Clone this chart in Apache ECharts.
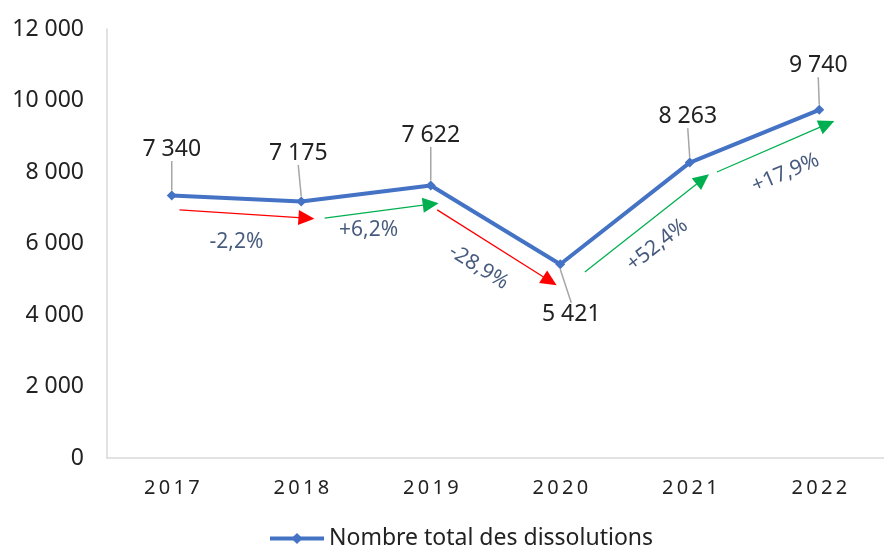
<!DOCTYPE html>
<html lang="fr">
<head>
<meta charset="UTF-8" />
<title>Nombre total des dissolutions</title>
<style>
  html, body { margin: 0; padding: 0; background: #fff; }
  #main { width: 884px; height: 548px; }
</style>
<script src="https://cdn.jsdelivr.net/npm/echarts@6/dist/echarts.min.js"></script>
</head>
<body>
<div id="main"></div>
<script>
  // données
  const years = ['2017', '2018', '2019', '2020', '2021', '2022']
  const dissolutions = [7340, 7175, 7622, 5421, 8263, 9740]
  const yTicks = [0, 2000, 4000, 6000, 8000, 10000, 12000]
  const changeLabels = ['-2,2%', '+6,2%', '-28,9%', '+52,4%', '+17,9%']
  const changeUp = [false, true, false, true, true]

  // placement des annotations, en coordonnées du graphique (index d'année, valeur)
  const arrowFrom = [[0.06, 6940], [1.18, 6710], [2.05, 6940], [3.19, 5200], [4.21, 8000]]
  const arrowTo = [[1.04, 6710], [2.0, 7100], [2.92, 4950], [4.1, 7800], [5.06, 9340]]
  const changeAt = [[0.5, 6040], [1.52, 6380], [2.37, 5340], [3.75, 5960], [4.74, 7970]]
  const changeRotate = [0, 0, -32, 38, 23]
  // décalage des étiquettes de valeur (px)
  const labelShift = [[0, -49], [-3, -51], [0, -53], [11, 53], [-2, -49], [-1, -47]]

  const FONT = 'Noto Sans'
  const fmt = v => String(v).replace(/\B(?=(\d{3})+(?!\d))/g, ' ')

  const chart = echarts.init(document.getElementById('main'))

  const lineData = dissolutions.map((v, i) => ({
    value: v,
    label: { padding: labelShift[i][1] > 0 ? [6, 0, 0, 0] : [0, 0, 6, 0] }
  }))

  const arrows = arrowFrom.map((p, i) => [
    { coord: p, lineStyle: { color: changeUp[i] ? '#00B050' : '#FF0000' },
      itemStyle: { color: changeUp[i] ? '#00B050' : '#FF0000' } },
    { coord: arrowTo[i] }
  ])

  const changeData = changeAt.map((p, i) => ({
    value: p,
    label: { formatter: changeLabels[i], rotate: changeRotate[i] }
  }))

  const option = {
    animation: false,
    textStyle: { fontFamily: FONT },
    grid: { left: 107, right: -7, top: 29, bottom: 90 },
    legend: {
      left: 268,
      top: 527,
      padding: 0,
      itemWidth: 54,
      itemHeight: 14,
      itemGap: 5,
      lineStyle: { width: 4 },
      textStyle: { fontFamily: FONT, fontSize: 23, color: '#222' },
      data: ['Nombre total des dissolutions']
    },
    xAxis: [
      {
        type: 'category',
        data: years,
        boundaryGap: true,
        axisLine: { lineStyle: { color: '#d9d9d9', width: 1.5 } },
        axisTick: { show: false },
        axisLabel: {
          margin: 20,
          fontSize: 20,
          color: '#222',
          fontFamily: FONT,
          formatter: v => v.split('').join('\u2009')
        }
      },
      { type: 'value', min: -0.5, max: 5.5, show: false }
    ],
    yAxis: {
      type: 'value',
      min: yTicks[0],
      max: yTicks[yTicks.length - 1],
      interval: yTicks[1] - yTicks[0],
      splitLine: { show: false },
      axisTick: { show: false },
      axisLine: { show: true, onZero: false, lineStyle: { color: '#d9d9d9', width: 1.5 } },
      axisLabel: { margin: 23, fontSize: 23, color: '#222', fontFamily: FONT, formatter: fmt }
    },
    series: [
      {
        name: 'Nombre total des dissolutions',
        type: 'line',
        data: lineData,
        symbol: 'diamond',
        symbolSize: 10,
        lineStyle: { color: '#4472C4', width: 4 },
        itemStyle: { color: '#4472C4' },
        label: {
          show: true,
          position: 'inside',
          color: '#222',
          fontSize: 23,
          fontFamily: FONT,
          formatter: p => fmt(p.value)
        },
        labelLayout: p => {
          const s = labelShift[p.dataIndex]
          return { dx: s[0], dy: s[1] + (s[1] > 0 ? -3 : 3) }
        },
        labelLine: { show: true, lineStyle: { color: '#a6a6a6', width: 1.5 } },
        z: 3
      },
      {
        name: 'variations',
        type: 'scatter',
        xAxisIndex: 1,
        data: changeData,
        symbolSize: 1,
        itemStyle: { color: 'rgba(0,0,0,0)' },
        silent: true,
        label: {
          show: true,
          position: 'inside',
          color: '#172f5c',
          fontSize: 21,
          fontFamily: FONT
        },
        markLine: {
          silent: true,
          symbol: ['none', 'triangle'],
          symbolSize: [15, 16],
          label: { show: false },
          lineStyle: { type: 'solid', width: 1.3 },
          data: arrows
        },
        z: 2
      }
    ]
  }

  chart.setOption(option)
</script>
</body>
</html>
